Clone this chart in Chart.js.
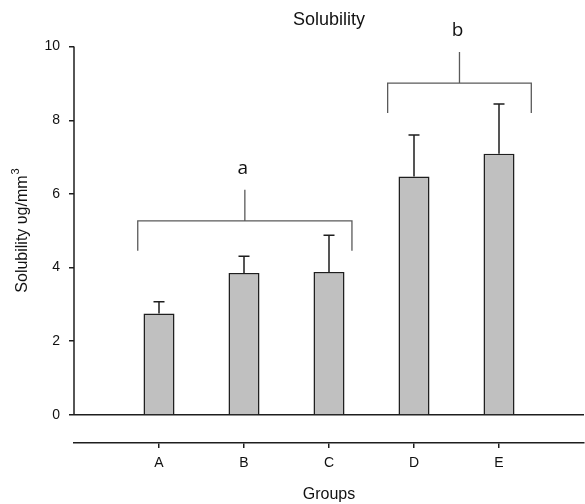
<!DOCTYPE html>
<html>
<head>
<meta charset="utf-8">
<script src="https://cdn.jsdelivr.net/npm/chart.js@4.4.1/dist/chart.umd.min.js"></script>
<style>
  html, body { margin: 0; padding: 0; background: #fff; }
  #wrap { width: 585px; height: 504px; }
</style>
</head>
<body>
<div id="wrap"><canvas id="chart" width="585" height="504"></canvas></div>
<script>
// chart data
const groups = ['A', 'B', 'C', 'D', 'E'];
const solubility = [2.75, 3.85, 3.88, 6.47, 7.09];
const errors = [0.32, 0.46, 1.0, 1.13, 1.35];
const yTicks = [0, 2, 4, 6, 8, 10];

// significance brackets: [label, from, to, level] in category units / data units
const brackets = [
    ['a', 0.75, 3.27, 5.27],
    ['b', 3.69, 5.38, 9.01]
];

// padded with empty slots at both ends like the original axis
const labels = [''].concat(groups, ['']);
const barData = [null].concat(solubility, [null]);
const errData = [null].concat(errors, [null]);

const ink = '#1e1e1e';

// error bars (upper only, with cap)
const errorBars = {
    id: 'errorBars',
    afterDatasetsDraw(chart) {
        const ctx = chart.ctx;
        const y = chart.scales.y;
        const meta = chart.getDatasetMeta(0);
        ctx.save();
        ctx.strokeStyle = ink;
        ctx.lineWidth = 1.5;
        meta.data.forEach(function(bar, i) {
            if (barData[i] == null) return;
            const top = y.getPixelForValue(barData[i] + errData[i]);
            ctx.beginPath();
            ctx.moveTo(bar.x, bar.y);
            ctx.lineTo(bar.x, top);
            ctx.moveTo(bar.x - 5.5, top);
            ctx.lineTo(bar.x + 5.5, top);
            ctx.stroke();
        });
        ctx.restore();
    }
};

// y axis line (0..10 only), brackets, y title
const extras = {
    id: 'extras',
    afterDraw(chart) {
        const ctx = chart.ctx;
        const x = chart.scales.x;
        const y = chart.scales.y;
        const area = chart.chartArea;
        ctx.save();

        // left axis line, stops at zero like the original
        ctx.strokeStyle = ink;
        ctx.lineWidth = 1.5;
        ctx.beginPath();
        ctx.moveTo(area.left, y.getPixelForValue(0));
        ctx.lineTo(area.left, y.getPixelForValue(10));
        ctx.stroke();

        // brackets
        brackets.forEach(function(b) {
            const x1 = x.getPixelForValue(b[1]);
            const x2 = x.getPixelForValue(b[2]);
            const yl = y.getPixelForValue(b[3]);
            const drop = 30;
            const xm = (x1 + x2) / 2;
            ctx.strokeStyle = '#5a5a5a';
            ctx.lineWidth = 1.3;
            ctx.beginPath();
            ctx.moveTo(x1, yl + drop);
            ctx.lineTo(x1, yl);
            ctx.lineTo(x2, yl);
            ctx.lineTo(x2, yl + drop);
            ctx.moveTo(xm, yl);
            ctx.lineTo(xm, yl - 31);
            ctx.stroke();
            ctx.fillStyle = '#111';
            ctx.font = '500 19px "Open Sans", sans-serif';
            ctx.textAlign = 'center';
            ctx.textBaseline = 'middle';
            ctx.fillText(b[0], xm - 2, yl - 52);
        });

        // y axis title with superscript
        ctx.translate(23, 231);
        ctx.rotate(-Math.PI / 2);
        ctx.fillStyle = '#111';
        ctx.textBaseline = 'middle';
        ctx.textAlign = 'left';
        const main = 'Solubility \u03c5g/mm';
        ctx.font = '16px "Liberation Sans", Arial, sans-serif';
        const w1 = ctx.measureText(main).width;
        ctx.font = '11px "Liberation Sans", Arial, sans-serif';
        const w2 = ctx.measureText('3').width;
        const start = -(w1 + w2) / 2;
        ctx.font = '16px "Liberation Sans", Arial, sans-serif';
        ctx.fillText(main, start, 0);
        ctx.font = '11px "Liberation Sans", Arial, sans-serif';
        ctx.fillText('3', start + w1 + 1, -7);
        ctx.restore();
    }
};

Chart.defaults.font.family = '"Liberation Sans", Arial, sans-serif';
Chart.defaults.color = '#111';

const ctx = document.getElementById('chart').getContext('2d');
const chart = new Chart(ctx, {
    type: 'bar',
    data: {
        labels: labels,
        datasets: [{
            label: 'Solubility',
            data: barData,
            backgroundColor: '#c0c0c0',
            borderColor: ink,
            borderWidth: 1.5,
            borderSkipped: 'bottom',
            categoryPercentage: 1,
            barPercentage: 0.365
        }]
    },
    options: {
        responsive: false,
        animation: false,
        devicePixelRatio: 1,
        layout: {
            padding: { top: 0, right: 1, bottom: 0, left: 0 }
        },
        plugins: {
            legend: { display: false },
            tooltip: { enabled: false },
            title: {
                display: true,
                text: 'Solubility',
                fullSize: false,
                font: { size: 18, weight: 'normal' },
                color: '#111',
                padding: { top: 9, bottom: 16 }
            }
        },
        scales: {
            x: {
                offset: false,
                border: { display: true, color: ink, width: 1.5 },
                grid: {
                    offset: false,
                    drawOnChartArea: false,
                    drawTicks: true,
                    tickLength: 5,
                    tickColor: function(c) {
                        return (c.index === 0 || c.index === labels.length - 1) ? 'transparent' : ink;
                    },
                    lineWidth: 1.5
                },
                afterFit: function(scale) {
                    scale.paddingLeft = 0;
                    scale.paddingRight = 0;
                },
                ticks: {
                    autoSkip: false,
                    maxRotation: 0,
                    padding: 7,
                    font: { size: 14 },
                    color: '#111'
                },
                title: {
                    display: true,
                    text: 'Groups',
                    font: { size: 16 },
                    color: '#111',
                    padding: { top: 6, bottom: 0 }
                }
            },
            y: {
                min: -0.763,
                max: 10,
                border: { display: false },
                grid: {
                    drawTicks: true,
                    tickLength: 5,
                    lineWidth: 1.5,
                    color: function(c) {
                        return (c.tick && c.tick.value === 0) ? ink : 'transparent';
                    },
                    tickColor: ink
                },
                afterBuildTicks: function(scale) {
                    scale.ticks = yTicks.map(function(v) { return { value: v }; });
                },
                afterFit: function(scale) {
                    scale.width = 74;
                },
                ticks: {
                    padding: 9,
                    font: { size: 14 },
                    color: '#111'
                }
            }
        }
    },
    plugins: [errorBars, extras]
});
</script>
</body>
</html>
